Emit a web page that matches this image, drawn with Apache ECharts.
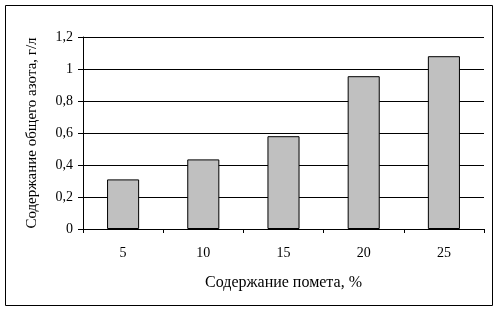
<!DOCTYPE html>
<html>
<head>
<meta charset="utf-8">
<script src="https://cdn.jsdelivr.net/npm/echarts@6/dist/echarts.min.js"></script>
<style>
html,body{margin:0;padding:0;background:#fff;}
#c{width:499px;height:311px;}
</style>
</head>
<body>
<div id="c"></div>
<script>
const categories = ['5', '10', '15', '20', '25'];
const values = [0.31, 0.435, 0.58, 0.955, 1.08];
const yTicks = [0, 0.2, 0.4, 0.6, 0.8, 1, 1.2];
const xTitle = 'Содержание помета, %';
const yTitle = 'Содержание общего азота, г/л';

const font = 'Liberation Serif';
const chart = echarts.init(document.getElementById('c'), null, {renderer: 'canvas'});
chart.setOption({
  animation: false,
  backgroundColor: '#fff',
  graphic: [{
    type: 'rect',
    shape: {x: 5.5, y: 5.5, width: 487, height: 300},
    style: {fill: 'none', stroke: '#000', lineWidth: 1},
    silent: true
  }],
  grid: {left: 83, top: 37, right: 15, bottom: 82, containLabel: false},
  xAxis: {
    type: 'category',
    data: categories,
    name: xTitle,
    nameLocation: 'middle',
    nameGap: 46,
    nameTextStyle: {fontFamily: font, fontSize: 16, color: '#000'},
    axisLine: {lineStyle: {color: '#000', width: 1}},
    axisTick: {show: true, alignWithLabel: false, length: 4, lineStyle: {color: '#000'}},
    axisLabel: {fontFamily: font, fontSize: 14, color: '#000', margin: 17}
  },
  yAxis: {
    type: 'value',
    min: yTicks[0],
    max: yTicks[yTicks.length - 1],
    interval: 0.2,
    name: yTitle,
    nameLocation: 'middle',
    nameGap: 43,
    nameRotate: 90,
    nameTextStyle: {fontFamily: font, fontSize: 15, color: '#000'},
    axisLine: {show: true, lineStyle: {color: '#000', width: 1}},
    axisTick: {show: true, length: 5, lineStyle: {color: '#000'}},
    splitLine: {show: true, lineStyle: {color: '#000', width: 1}},
    axisLabel: {
      fontFamily: font, fontSize: 14, color: '#000', margin: 10,
      formatter: v => {
        const r = Math.round(v * 10) / 10;
        return String(r).replace('.', ',');
      }
    }
  },
  series: [{
    type: 'bar',
    data: values,
    barWidth: '40%',
    itemStyle: {color: '#C0C0C0', borderColor: '#000', borderWidth: 1}
  }]
});
</script>
</body>
</html>
